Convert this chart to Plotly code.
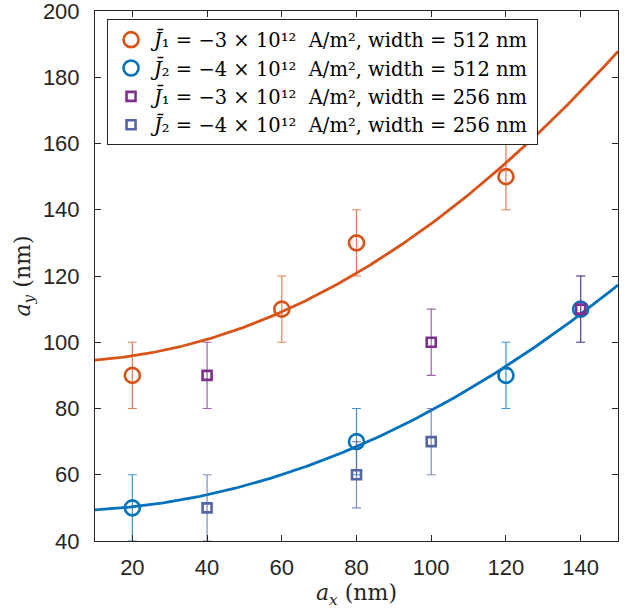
import numpy as np
import plotly.graph_objects as go

# ---- data ----
x_j1_512 = [20, 60, 80, 120]
y_j1_512 = [90, 110, 130, 150]
x_j2_512 = [20, 80, 120, 140]
y_j2_512 = [50, 70, 90, 110]
x_j1_256 = [40, 100, 140]
y_j1_256 = [90, 100, 110]
x_j2_256 = [40, 80, 100]
y_j2_256 = [50, 60, 70]
err = 10
x_ticks = [20, 40, 60, 80, 100, 120, 140]
y_ticks = [40, 60, 80, 100, 120, 140, 160, 180, 200]

S = "&nbsp;"
names = [
    f"<i>J̄</i>₁{S}={S}−3{S}×{S}10¹²{S}{S}A/m², width{S}={S}512{S}nm",
    f"<i>J̄</i>₂{S}={S}−4{S}×{S}10¹²{S}{S}A/m², width{S}={S}512{S}nm",
    f"<i>J̄</i>₁{S}={S}−3{S}×{S}10¹²{S}{S}A/m², width{S}={S}256{S}nm",
    f"<i>J̄</i>₂{S}={S}−4{S}×{S}10¹²{S}{S}A/m², width{S}={S}256{S}nm",
]

ORANGE = "#D95319"
BLUE = "#0072BD"
PURPLE = "#7E2F8E"
SLATE = "#5366A8"


def fit_curve(xs, ys):
    xs = np.asarray(xs, float)
    ys = np.asarray(ys, float)
    A = np.vstack([np.ones_like(xs), xs ** 2]).T
    coef, *_ = np.linalg.lstsq(A, ys, rcond=None)
    xf = np.linspace(10, 150, 200)
    return xf, coef[0] + coef[1] * xf ** 2


def rgba(hexc, a):
    h = hexc.lstrip("#")
    r, g, b = int(h[0:2], 16), int(h[2:4], 16), int(h[4:6], 16)
    return f"rgba({r},{g},{b},{a})"


fig = go.Figure()

for xs, ys, c in [(x_j1_512, y_j1_512, ORANGE), (x_j2_512, y_j2_512, BLUE)]:
    xf, yf = fit_curve(xs, ys)
    fig.add_trace(go.Scatter(x=xf, y=yf, mode="lines", line=dict(color=c, width=2.8),
                             showlegend=False, hoverinfo="skip"))

series = [
    (x_j1_512, y_j1_512, ORANGE, "circle-open", 15, names[0]),
    (x_j2_512, y_j2_512, BLUE, "circle-open", 15, names[1]),
    (x_j1_256, y_j1_256, PURPLE, "square-open", 9, names[2]),
    (x_j2_256, y_j2_256, SLATE, "square-open", 9, names[3]),
]
for xs, ys, c, sym, sz, nm in series:
    fig.add_trace(go.Scatter(
        x=xs, y=ys, mode="markers", name=nm,
        marker=dict(symbol=sym, size=sz, color=c, line=dict(color=c, width=2.6)),
        error_y=dict(type="constant", value=err, color=rgba(c, 0.75), thickness=1.2, width=4.5),
    ))

axis_common = dict(
    showline=True, linecolor="#262626", linewidth=1, mirror="ticks",
    ticks="inside", ticklen=6, tickcolor="#262626", showgrid=False, zeroline=False,
    automargin=False, ticklabeloverflow="allow",
    tickfont=dict(family="Liberation Sans, Arial, sans-serif", size=22, color="#262626"),
)

fig.update_xaxes(range=[10, 150], tickvals=x_ticks, ticklabelstandoff=7,
                 title=dict(text="<i>a<sub>x</sub></i> (nm)", standoff=4,
                            font=dict(family="DejaVu Serif, serif", size=22, color="#262626")),
                 **axis_common)
fig.update_yaxes(range=[40, 200], tickvals=y_ticks, ticklabelstandoff=10,
                 title=dict(text="<i>a<sub>y</sub></i> (nm)", standoff=6,
                            font=dict(family="DejaVu Serif, serif", size=22, color="#262626")),
                 **axis_common)

fig.update_layout(
    width=631, height=612,
    margin=dict(l=95, r=13, t=11, b=71),
    plot_bgcolor="white", paper_bgcolor="white",
    legend=dict(x=0.023, y=0.984, xanchor="left", yanchor="top",
                bgcolor="white", bordercolor="#262626", borderwidth=1,
                font=dict(family="DejaVu Serif, serif", size=19.5, color="black"),
                tracegroupgap=0, itemwidth=36),
    showlegend=True,
)

fig.write_html("out.html", config={"displayModeBar": False},
               post_script="document.body.style.margin='0';")
